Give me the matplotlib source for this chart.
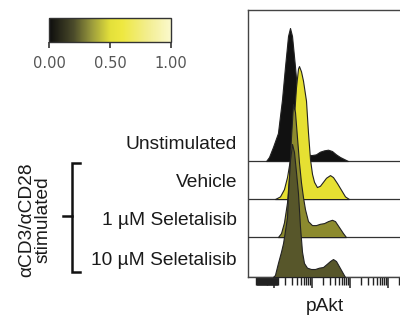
import matplotlib
matplotlib.use("Agg")
import matplotlib.pyplot as plt
import numpy as np
from matplotlib.colors import LinearSegmentedColormap, Normalize
from matplotlib.cm import ScalarMappable
from matplotlib.lines import Line2D
from matplotlib.ticker import FixedLocator, NullFormatter

# samples, top panel first
labels = ["Unstimulated", "Vehicle", "1 µM Seletalisib", "10 µM Seletalisib"]
colors = ["#111111", "#e6e032", "#8c8a2e", "#57562a"]
offsets = [87.2, 58.6, 30.0, 0.0]

# pAkt intensity and % of mode
unstim_x = [6.2, 7.4, 9.4, 12.7, 14.4, 16.2, 19.5, 23.4, 26.4, 29.8, 35.7, 42.8, 51.4,
            61.6, 73.9, 88.6, 100, 127, 162, 207, 264, 336, 428, 546, 695, 886]
unstim_y = [0, 3, 10.5, 21, 34, 46, 71, 94, 100, 94, 71, 45, 24,
            11, 6, 4.5, 4.5, 5, 7, 8, 8.5, 7.5, 5, 3, 1.5, 0]

vehicle_x = [10.6, 14.4, 18.3, 22.0, 26.4, 29.8, 33.6, 37.9, 42.8, 45.5, 51.4, 58.0, 61.6,
             69.5, 78.5, 88.6, 100, 113, 135, 162, 195, 234, 298, 357, 455, 580, 739, 941]
vehicle_y = [0, 2, 7.5, 16.5, 30, 45, 62, 84, 98, 100, 96, 89, 84,
             74, 50, 30, 19, 13, 9, 10, 13, 16, 18, 16.5, 12, 7, 2, 0]

sel1_x = [12.7, 15.3, 18.3, 22.0, 24.8, 28.0, 31.6, 35.7, 40.3, 45.5, 51.4, 58.0, 65.4,
          78.5, 100, 127, 162, 207, 264, 336, 403, 514, 654, 785]
sel1_y = [0, 3, 11, 26, 45, 75, 100, 94, 75, 56, 41, 30, 21,
          12, 9, 9, 10, 10.5, 12, 13, 12, 7.5, 3, 0]

sel10_x = [9.4, 10.6, 12.7, 15.3, 17.3, 19.5, 22.0, 23.4, 26.4, 29.8, 33.6, 37.9, 42.8,
           48.3, 54.6, 61.6, 73.9, 94.1, 120, 153, 195, 248, 298, 357, 428, 514, 616, 739]
sel10_y = [0, 1.5, 10.5, 19, 25.5, 35, 45, 63, 88, 100, 94, 79, 63,
           38, 19, 10.5, 7, 6, 6, 7, 7.5, 10, 12, 13.5, 12, 8, 4, 0]

curves = [(unstim_x, unstim_y), (vehicle_x, vehicle_y), (sel1_x, sel1_y), (sel10_x, sel10_y)]

cbar_colors = ["#0d0d0d", "#4a4a2a", "#9a9a3c", "#e3e03a", "#eee840", "#f2ed8c", "#fbf9cc"]
cbar_stops = [0.0, 0.2, 0.35, 0.5, 0.6, 0.8, 1.0]
cbar_ticks = [0.0, 0.5, 1.0]

fig = plt.figure(figsize=(4, 3.22), dpi=100)
ax = fig.add_axes([0.62, 0.1398, 0.43, 0.8292])

for i, (xs, ys) in enumerate(curves):
    off = offsets[i]
    ax.axhline(off, color="#333333", lw=0.9, zorder=i + 1)
    ax.fill_between(xs, off, np.array(ys) + off, facecolor=colors[i],
                    edgecolor="#222222", lw=0.8, zorder=i + 1)

ax.set_xscale("log")
ax.set_xlim(2.07, 69500)
ax.set_ylim(0, 200.75)
ax.set_yticks([])

# log ticks plus the crowded block near zero
minor = [k * 10.0 ** n for n in range(1, 5) for k in range(2, 10)]
minor += list(np.logspace(np.log10(3.4), np.log10(12.6), 45))
ax.xaxis.set_major_locator(FixedLocator([10, 100, 1000, 10000]))
ax.xaxis.set_minor_locator(FixedLocator(minor))
ax.xaxis.set_major_formatter(NullFormatter())
ax.xaxis.set_minor_formatter(NullFormatter())
ax.tick_params(axis="x", which="major", direction="out", length=8, width=1.1, color="#222222")
ax.tick_params(axis="x", which="minor", direction="out", length=6, width=1.0, color="#222222")

for s in ["left", "top", "bottom"]:
    ax.spines[s].set_color("#444444")
    ax.spines[s].set_linewidth(1.0)
ax.spines["right"].set_visible(False)

font = "Liberation Sans"
for i, lab in enumerate(labels):
    ax.annotate(lab, xy=(0.5925, offsets[i] + 12.5), xycoords=("figure fraction", "data"),
                ha="right", va="center", fontsize=13.8, family=font, color="#1a1a1a")

fig.text(0.8125, 0.0466, "pAkt", ha="center", va="center", fontsize=13.8,
         family=font, color="#1a1a1a")

fig.text(0.0875, 0.317, "αCD3/αCD28\nstimulated", rotation=90, ha="center", va="center",
         multialignment="center", linespacing=0.95, fontsize=13.8, family=font, color="#1a1a1a")

# bracket
bx, by_top, by_bot, by_mid = 0.18, 0.4938, 0.1553, 0.3292
for xs_, ys_ in [([0.2, bx, bx, 0.2], [by_top, by_top, by_bot, by_bot]),
                 ([0.1575, bx], [by_mid, by_mid])]:
    fig.add_artist(Line2D(xs_, ys_, transform=fig.transFigure, color="#111111", lw=1.8,
                          solid_joinstyle="miter"))

# colorbar
cmap = LinearSegmentedColormap.from_list("pakt", list(zip(cbar_stops, cbar_colors)))
cax = fig.add_axes([0.1225, 0.8696, 0.305, 0.0745])
cb = fig.colorbar(ScalarMappable(norm=Normalize(0, 1), cmap=cmap), cax=cax,
                  orientation="horizontal", ticks=cbar_ticks, format="%.2f")
cb.outline.set_edgecolor("#333333")
cb.outline.set_linewidth(1.0)
cax.tick_params(length=4, width=1.2, color="#333333", labelsize=10.5, labelcolor="#555555", pad=6)

fig.savefig("out.png", dpi=100)
